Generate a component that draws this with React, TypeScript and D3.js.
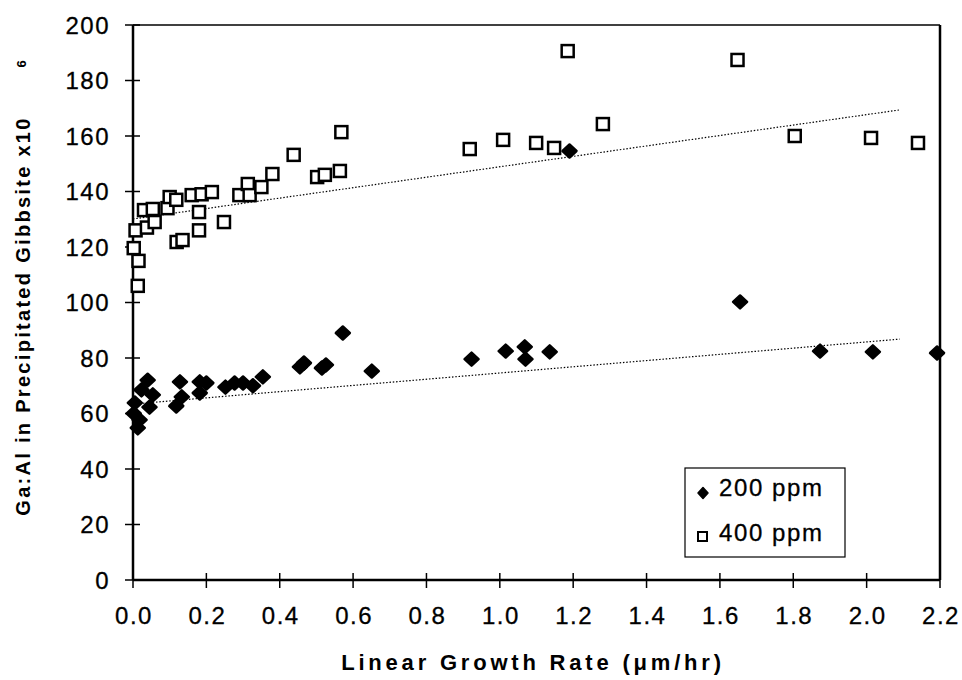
import React from 'react';
import * as d3 from 'd3';

// 200 ppm series (filled diamonds)
const rate200 = [0.002, 0.005, 0.013, 0.018, 0.023, 0.04, 0.045, 0.054, 0.118, 0.128, 0.133, 0.182, 0.182, 0.2, 0.252, 0.277, 0.3, 0.327, 0.354, 0.455, 0.466, 0.515, 0.526, 0.572, 0.651, 0.923, 1.016, 1.068, 1.07, 1.136, 1.19, 1.655, 1.873, 2.017, 2.192];
const ga200 = [60, 63.8, 54.8, 57.7, 68.5, 72, 62.3, 66.7, 62.7, 71.4, 66, 71.4, 67.4, 71, 69.5, 71, 71, 70, 73.2, 76.8, 78.2, 76.4, 77.5, 89, 75.3, 79.6, 82.5, 84, 79.6, 82.2, 154.6, 100.2, 82.5, 82.2, 81.8];

// 400 ppm series (open squares)
const rate400 = [0.002, 0.007, 0.013, 0.015, 0.03, 0.038, 0.054, 0.059, 0.094, 0.1, 0.118, 0.119, 0.135, 0.16, 0.18, 0.18, 0.187, 0.215, 0.248, 0.29, 0.313, 0.318, 0.35, 0.38, 0.438, 0.502, 0.523, 0.564, 0.568, 0.918, 1.009, 1.099, 1.148, 1.185, 1.281, 1.648, 1.804, 2.012, 2.14];
const ga400 = [119.6, 126, 106, 115, 133.3, 127, 133.7, 129, 134, 138, 137, 121.8, 122.5, 138.7, 132.6, 126, 139, 139.8, 129, 138.7, 142.7, 138.7, 141.6, 146.3, 153.2, 145.2, 146, 147.4, 161.4, 155.3, 158.6, 157.5, 155.7, 190.6, 164.3, 187.4, 160, 159.3, 157.5];

// linear trend lines (end points)
const trendRate = [0, 2.09];
const trend200 = [63.4, 86.8];
const trend400 = [130.1, 169.4];

const xTicks = [0, 0.2, 0.4, 0.6, 0.8, 1.0, 1.2, 1.4, 1.6, 1.8, 2.0, 2.2];
const yTicks = [0, 20, 40, 60, 80, 100, 120, 140, 160, 180, 200];
const legendLabels = ['200 ppm', '400 ppm'];

const W = 962, H = 680;
const m = { left: 133, right: 22, top: 25, bottom: 100 };
const font = 'Liberation Sans, Arial, Helvetica, sans-serif';

function diamond(cx: number, cy: number, w: number, h: number) {
  return `M${cx},${cy - h / 2}L${cx + w / 2},${cy}L${cx},${cy + h / 2}L${cx - w / 2},${cy}Z`;
}

export default function App() {
  const x = d3.scaleLinear().domain([0, 2.2]).range([m.left, W - m.right]);
  const y = d3.scaleLinear().domain([0, 200]).range([H - m.bottom, m.top]);
  const line = d3.line<number>().x((d, i) => x(trendRate[i])).y(d => y(d));
  const x0 = x(0), x1 = x(2.2), y0 = y(0), y1 = y(200);

  return (
    <div style={{ position: 'absolute', left: 0, top: 0 }}>
      <svg width={W} height={H} style={{ display: 'block', background: '#fff' }}>
        {/* trend lines */}
        <path d={line(trend200) || ''} fill="none" stroke="#000" strokeWidth={1.2} strokeDasharray="1.5 1.8" />
        <path d={line(trend400) || ''} fill="none" stroke="#000" strokeWidth={1.2} strokeDasharray="1.5 1.8" />

        {/* frame */}
        <line x1={x0} x2={x1} y1={y1} y2={y1} stroke="#000" strokeWidth={1.5} />
        <line x1={x1} x2={x1} y1={y1} y2={y0} stroke="#000" strokeWidth={2.5} />
        <line x1={x0} x2={x0} y1={y1} y2={y0} stroke="#000" strokeWidth={2.5} />
        <line x1={x0} x2={x1} y1={y0} y2={y0} stroke="#000" strokeWidth={2.5} />

        {/* y ticks */}
        {yTicks.map(t => (
          <g key={'y' + t}>
            <line x1={x0 - 8} x2={x0 + 7} y1={y(t)} y2={y(t)} stroke="#000" strokeWidth={1.5} />
            <text x={x0 - 23} y={y(t)} dy="0.36em" textAnchor="end" fontFamily={font} fontSize={24} letterSpacing={1.5} stroke="#000" strokeWidth={0.3}>
              {t}
            </text>
          </g>
        ))}

        {/* x ticks */}
        {xTicks.map(t => (
          <g key={'x' + t}>
            <line x1={x(t)} x2={x(t)} y1={y0 - 7} y2={y0 + 8} stroke="#000" strokeWidth={1.5} />
            <text x={x(t) + 1} y={y0 + 44} textAnchor="middle" fontFamily={font} fontSize={24} letterSpacing={1.5} stroke="#000" strokeWidth={0.3}>
              {t.toFixed(1)}
            </text>
          </g>
        ))}

        {/* 400 ppm squares */}
        {rate400.map((r, i) => (
          <rect key={'s' + i} x={x(r) - 6} y={y(ga400[i]) - 6} width={12} height={12} fill="#fff" stroke="#000" strokeWidth={2.5} />
        ))}

        {/* 200 ppm diamonds */}
        {rate200.map((r, i) => (
          <path key={'d' + i} d={diamond(x(r), y(ga200[i]), 14, 13)} fill="#000" stroke="#000" strokeWidth={2.5} strokeLinejoin="round" />
        ))}

        {/* legend */}
        <rect x={685} y={468} width={160} height={89} fill="#fff" stroke="#000" strokeWidth={1.2} />
        <path d={diamond(703, 493, 10, 11)} fill="#000" stroke="#000" strokeWidth={1.5} strokeLinejoin="round" />
        <rect x={698} y={532} width={9} height={9} fill="#fff" stroke="#000" strokeWidth={2} />
        <text x={719} y={496} fontFamily={font} fontSize={24} letterSpacing={1.6} stroke="#000" strokeWidth={0.3}>{legendLabels[0]}</text>
        <text x={719} y={541} fontFamily={font} fontSize={24} letterSpacing={1.6} stroke="#000" strokeWidth={0.3}>{legendLabels[1]}</text>

        {/* axis titles */}
        <text x={533} y={670} textAnchor="middle" fontFamily={font} fontSize={22} fontWeight="bold" letterSpacing={3.8}>
          Linear Growth Rate (μm/hr)
        </text>
        <text transform={`translate(30, ${316}) rotate(-90)`} textAnchor="middle" fontFamily={font} fontSize={20} fontWeight="bold" letterSpacing={2.3}>
          Ga:Al in Precipitated Gibbsite x10
        </text>
        <text transform={`translate(26, 64) rotate(-90)`} textAnchor="middle" fontFamily={font} fontSize={13} fontWeight="bold">
          6
        </text>
      </svg>
    </div>
  );
}
